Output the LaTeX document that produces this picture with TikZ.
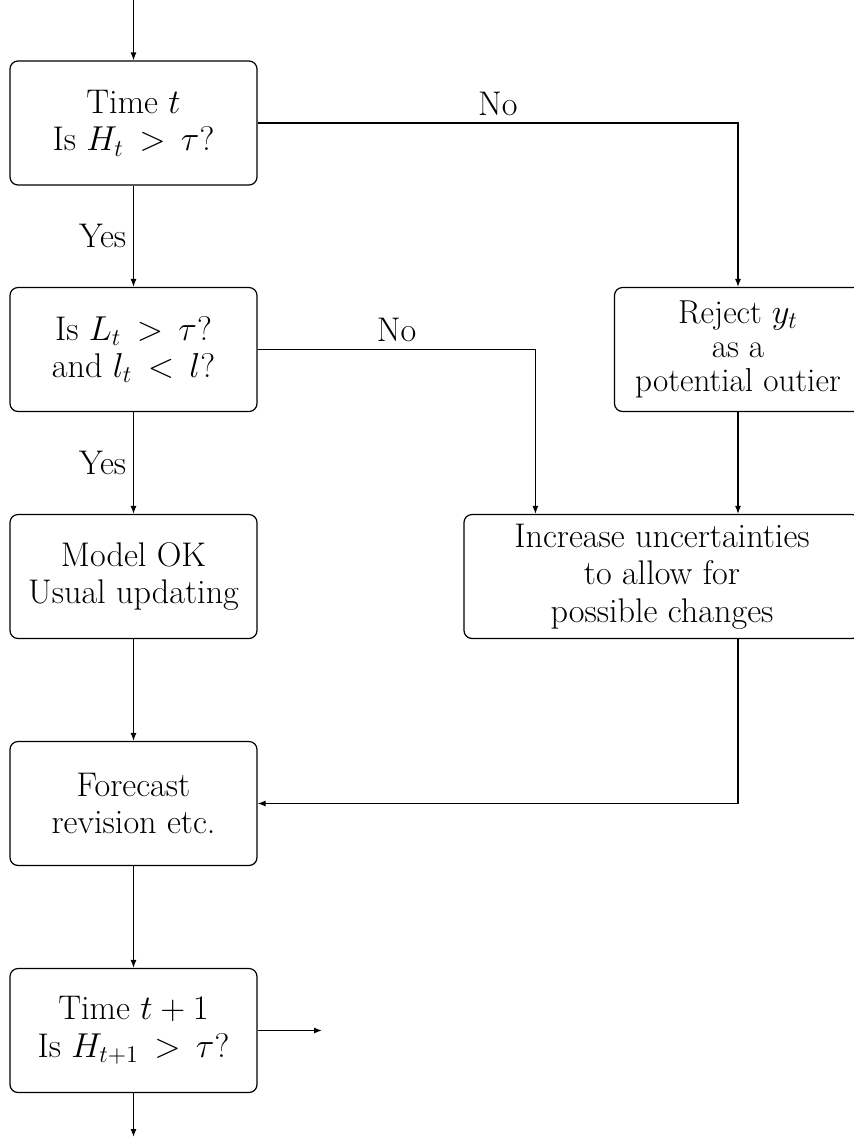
\documentclass[tikz,border=0pt]{standalone}
\usetikzlibrary{arrows.meta,calc}
\begin{document}
\begin{tikzpicture}[x=0.5pt,y=-0.5pt,
  box/.style={draw,rounded corners=4pt,line width=0.6pt,minimum width=123.5pt,minimum height=62pt,align=center,inner sep=0pt,font=\fontsize{17.1}{18.8}\selectfont},
  arr/.style={line width=0.6pt,-{Latex[length=4pt,width=3pt]}},
  lab/.style={font=\fontsize{17.1}{18.8}\selectfont}]
\useasboundingbox (0,0) rectangle (854,1137);
\node[box] (b1) at (133.5,123) {Time $t$\\Is $H_t\,>\,\tau$?};
\node[box] (b2) at (133.5,349.5) {Is $L_t\,>\,\tau$?\\and $l_t\,<\,l$?};
\node[box] (b3) at (133.5,576.5) {Model OK\\Usual updating};
\node[box] (b4) at (133.5,803.5) {Forecast\\revision etc.};
\node[box] (b5) at (133.5,1030.5) {Time $t+1$\\Is $H_{t+1}\,>\,\tau$?};
\node[box,font=\fontsize{16.6}{17}\selectfont] (rej) at (738,349.5) {Reject $y_t$\\as a\\potential outier};
\node[box,minimum width=198pt] (inc) at (662,576.5) {Increase uncertainties\\to allow for\\possible changes};
\coordinate (top) at (133.5,0);
\coordinate (bot) at (133.5,1137);
\coordinate (out) at (322,1030.5);
\draw[arr] (top) -- (b1.north);
\draw[arr] (b1.south) -- node[lab,left]{Yes} (b2.north);
\draw[arr] (b2.south) -- node[lab,left]{Yes} (b3.north);
\draw[arr] (b3.south) -- (b4.north);
\draw[arr] (b4.south) -- (b5.north);
\draw[arr] (b5.south) -- (bot);
\draw[arr] (b5.east) -- (out);
\draw[arr] (b1.east) -| node[lab,pos=0.25,above]{No} (rej.north);
\draw[arr] (b2.east) -| node[lab,pos=0.25,above]{No} ($(inc.north west)+(72,0)$);
\draw[arr] (rej.south) -- (rej.south |- inc.north);
\draw[arr] (rej.south |- inc.south) |- (b4.east);
\end{tikzpicture}
\end{document}
